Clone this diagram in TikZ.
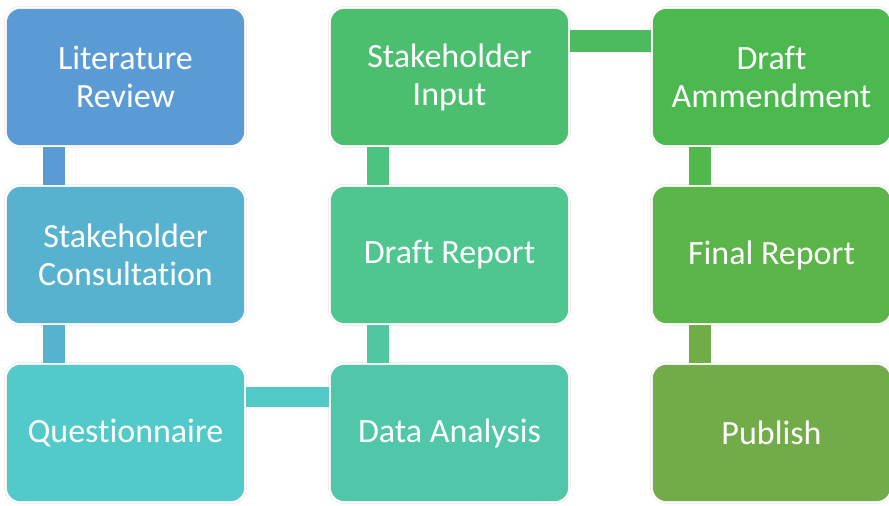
\documentclass[tikz,border=0pt]{standalone}
\usepackage{fontspec}
\setmainfont{Carlito}[Ligatures=NoCommon]
\definecolor{cA}{HTML}{5B9BD5}
\definecolor{cB}{HTML}{57B2CF}
\definecolor{cC}{HTML}{52CACA}
\definecolor{cD}{HTML}{50C7A8}
\definecolor{cE}{HTML}{4FC68F}
\definecolor{cF}{HTML}{4CBE6F}
\definecolor{cG}{HTML}{4BB94E}
\definecolor{cH}{HTML}{5CB548}
\definecolor{cI}{HTML}{71AC48}
\definecolor{kAB}{HTML}{5B9BD5}
\definecolor{kBC}{HTML}{56B3CF}
\definecolor{kCD}{HTML}{52C9C6}
\definecolor{kDE}{HTML}{50C7A0}
\definecolor{kEF}{HTML}{4EC380}
\definecolor{kFG}{HTML}{4CBB5E}
\definecolor{kGH}{HTML}{52B84B}
\definecolor{kHI}{HTML}{70AD47}
\begin{document}
\begin{tikzpicture}[x=1pt,y=1pt,
  stepbox/.style={rectangle, rounded corners=15pt, minimum width=240pt, minimum height=139pt,
    draw=black!10, double=white, double distance=1.6pt, line width=0.5pt,
    text=white, align=center, font=\fontsize{34}{38}\selectfont, inner sep=0pt}]
\useasboundingbox (0,0) rectangle (889,506);
\node[stepbox, fill=cA] (lit) at (125.5,429) {Literature\\Review};
\node[stepbox, fill=cB] (sc)  at (125.5,251) {Stakeholder\\Consultation};
\node[stepbox, fill=cC] (q)   at (125.5,73)  {Questionnaire};
\node[stepbox, fill=cD] (da)  at (449.5,73)  {Data Analysis};
\node[stepbox, fill=cE] (dr)  at (449.5,251) {Draft Report};
\node[stepbox, fill=cF] (si)  at (449.5,429) {Stakeholder\\Input};
\node[stepbox, fill=cG] (dam) at (771.5,429) {Draft\\Ammendment};
\node[stepbox, fill=cH] (fr)  at (771.5,251) {Final Report};
\node[stepbox, fill=cI] (pub) at (771.5,73)  {Publish};
% connectors
\fill[kAB] ([xshift=-83pt]lit.south) rectangle ([xshift=-61pt]sc.north);
\fill[kBC] ([xshift=-83pt]sc.south) rectangle ([xshift=-61pt]q.north);
\fill[kCD] ([yshift=26pt]q.east) rectangle ([yshift=46pt]da.west);
\fill[kDE] ([xshift=-83pt]da.north) rectangle ([xshift=-61pt]dr.south);
\fill[kEF] ([xshift=-83pt]dr.north) rectangle ([xshift=-61pt]si.south);
\fill[kFG] ([yshift=25pt]si.east) rectangle ([yshift=47pt]dam.west);
\fill[kGH] ([xshift=-83pt]dam.south) rectangle ([xshift=-61pt]fr.north);
\fill[kHI] ([xshift=-83pt]fr.south) rectangle ([xshift=-61pt]pub.north);
\end{tikzpicture}
\end{document}
